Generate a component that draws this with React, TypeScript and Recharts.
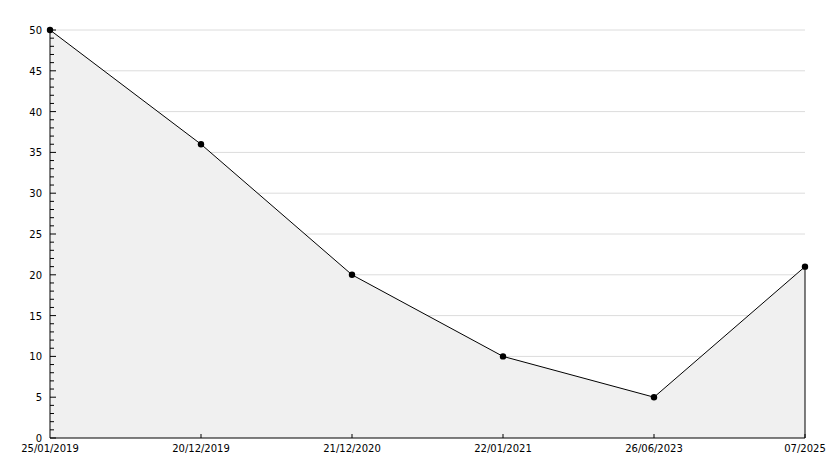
import { AreaChart, Area, XAxis, YAxis, ReferenceLine, CartesianGrid } from 'recharts';

const dates = ['25/01/2019', '20/12/2019', '21/12/2020', '22/01/2021', '26/06/2023', '07/2025'];
const values = [50, 36, 20, 10, 5, 21];
const yTicks = Array.from({ length: 51 }, (_, i) => i);
const gridValues = [5, 10, 15, 20, 25, 30, 35, 40, 45, 50];

const data = dates.map((d, i) => ({ date: d, value: values[i] }));
const FONT = '"DejaVu Sans", sans-serif';

function YTick(props: any) {
  const { x, y, payload } = props;
  const v = payload.value;
  const major = v % 5 === 0;
  return (
    <g>
      <line x1={x} y1={y} x2={x + (major ? 6 : 4)} y2={y} stroke="#000" />
      {major && (
        <text x={x - 8} y={y + 4} textAnchor="end" fontSize={10} fontFamily={FONT} fill="#000">{v}</text>
      )}
    </g>
  );
}

function XTick(props: any) {
  const { x, y, payload, index } = props;
  return (
    <g>
      {index > 0 && <line x1={x} y1={y} x2={x} y2={y - 4} stroke="#000" />}
      <text x={x} y={y + 14} textAnchor="middle" fontSize={10} fontFamily={FONT} fill="#000">{payload.value}</text>
    </g>
  );
}

function Dot(props: any) {
  const { cx, cy } = props;
  return <circle cx={cx} cy={cy} r={3.2} fill="#000" />;
}

export default function App() {
  return (
    <div style={{ position: 'absolute', left: 0, top: 0, width: 834, height: 468, background: '#fff' }}>
      <AreaChart width={834} height={468} data={data} margin={{ top: 30, right: 29, bottom: 0, left: 0 }}>
        <CartesianGrid vertical={false} stroke="#dcdcdc" horizontalValues={gridValues} />
        <XAxis dataKey="date" scale="point" padding={{ left: 0, right: 0 }} height={30} stroke="#000"
          tickLine={false} tickSize={0} tickMargin={0} interval={0} tick={<XTick />} />
        <YAxis domain={[0, 50]} ticks={yTicks} width={50} stroke="#000" tickLine={false}
          tickSize={0} tickMargin={0} interval={0} tick={<YTick />} />
        <Area type="linear" dataKey="value" stroke="#000" strokeWidth={1} fill="#f0f0f0" fillOpacity={1}
          dot={<Dot />} activeDot={false} isAnimationActive={false} />
        <ReferenceLine segment={[{ x: dates[5], y: 0 }, { x: dates[5], y: values[5] }]} stroke="#000" />
      </AreaChart>
    </div>
  );
}
